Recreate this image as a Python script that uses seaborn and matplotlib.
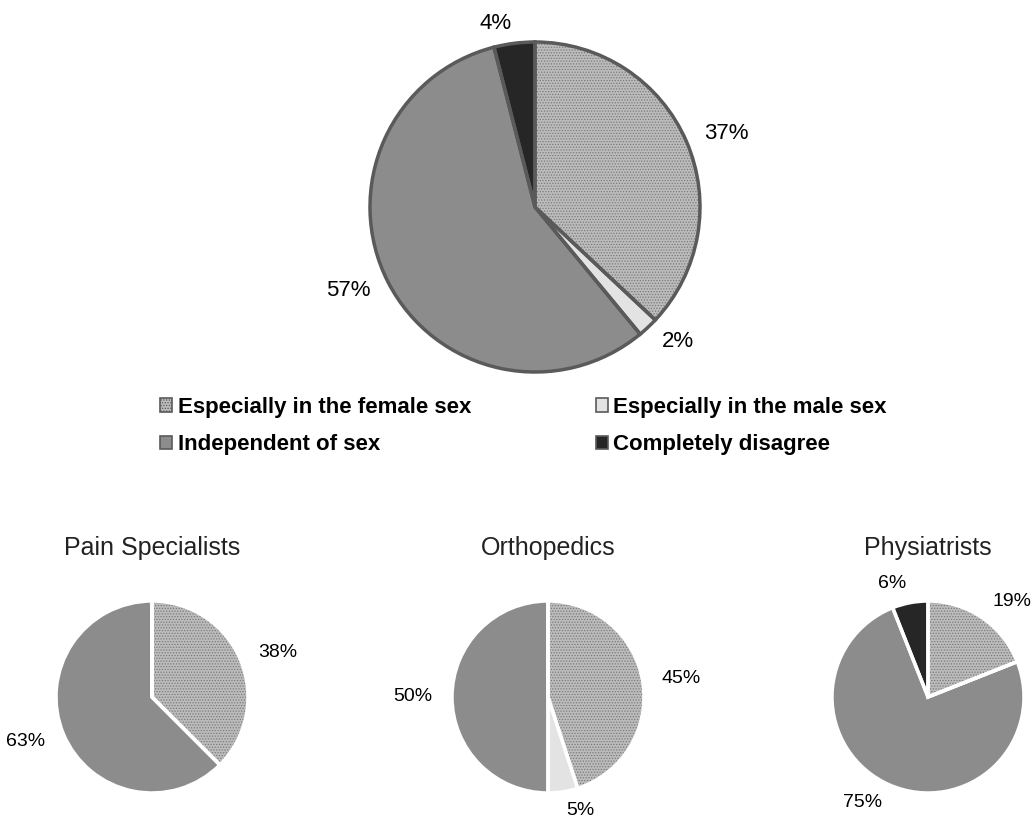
# -*- encoding utf-8 -*-
# Pie charts: opinion on sex differences, overall and by specialty

# %% libraries
import matplotlib
matplotlib.use('Agg')
import matplotlib.pyplot as plt
from matplotlib.patches import Patch
import seaborn as sns

# %% data
categories = ['Especially in the female sex', 'Especially in the male sex',
              'Independent of sex', 'Completely disagree']
overall = [37, 2, 57, 4]
groups = ['Pain Specialists', 'Orthopedics', 'Physiatrists']
pain = [37.5, 0, 62.5, 0]
ortho = [45, 5, 50, 0]
physio = [19, 0, 75, 6]
pain_labels = ['38%', '', '63%', '']
ortho_labels = ['45%', '5%', '50%', '']
physio_labels = ['19%', '', '75%', '6%']
overall_labels = ['37%', '2%', '57%', '4%']

# %% style
sns.set_theme(style='white')
plt.rcParams['font.family'] = ['Liberation Sans', 'DejaVu Sans']
plt.rcParams['text.color'] = 'black'
plt.rcParams['hatch.linewidth'] = 0.6

colors = ['#bcbcbc', '#e3e3e3', '#8c8c8c', '#262626']
hatches = ['......', None, None, None]
W, H = 1033, 822


def draw_pie(ax, values, labels, edge, lw, fs, dist):
    wedges, _ = ax.pie(values, colors=colors, startangle=90, counterclock=False,
                       wedgeprops=dict(linewidth=0, edgecolor='#7a7a7a'))
    for w, h in zip(wedges, hatches):
        if h:
            w.set_hatch(h)
    # second pass for the slice borders
    ax.pie(values, labels=labels, startangle=90, counterclock=False,
           labeldistance=dist,
           wedgeprops=dict(fill=False, linewidth=lw, edgecolor=edge),
           textprops=dict(fontsize=fs, color='black'))
    ax.set_xlim(-1.25, 1.25)
    ax.set_ylim(-1.25, 1.25)
    ax.set_aspect('equal')
    ax.axis('off')


def px_axes(fig, cx, cy, r):
    s = 2.5 * r
    return fig.add_axes([(cx - s / 2) / W, (H - cy - s / 2) / H, s / W, s / H])


# %% figure
fig = plt.figure(figsize=(W / 100, H / 100), dpi=100)

ax = px_axes(fig, 535, 207, 165)
draw_pie(ax, overall, overall_labels, '#5a5a5a', 2.5, 16, 1.12)

centers = [152, 548, 928]
for cx, name, vals, labs in zip(centers, groups, [pain, ortho, physio],
                                [pain_labels, ortho_labels, physio_labels]):
    ax = px_axes(fig, cx, 697, 96)
    draw_pie(ax, vals, labs, 'white', 2.5, 14, 1.2)
    fig.text(cx / W, 1 - 548 / H, name, ha='center', va='center',
             fontsize=18, color='#222222')

# legend
handles = [Patch(facecolor=c, edgecolor='#5a5a5a', hatch=h, linewidth=1.2)
           for c, h in zip(colors, hatches)]
order = [0, 2, 1, 3]
leg = fig.legend([handles[i] for i in order], [categories[i] for i in order],
                 ncol=2, loc='upper left', bbox_to_anchor=(140 / W, 1 - 377 / H),
                 frameon=False, handlelength=0.55, handleheight=0.55,
                 handletextpad=0.25, columnspacing=5.6, labelspacing=0.73,
                 prop=dict(weight='bold', size=16))
for t in leg.get_texts():
    t.set_color('black')

# save plot
plt.savefig('out.png', dpi=100)
